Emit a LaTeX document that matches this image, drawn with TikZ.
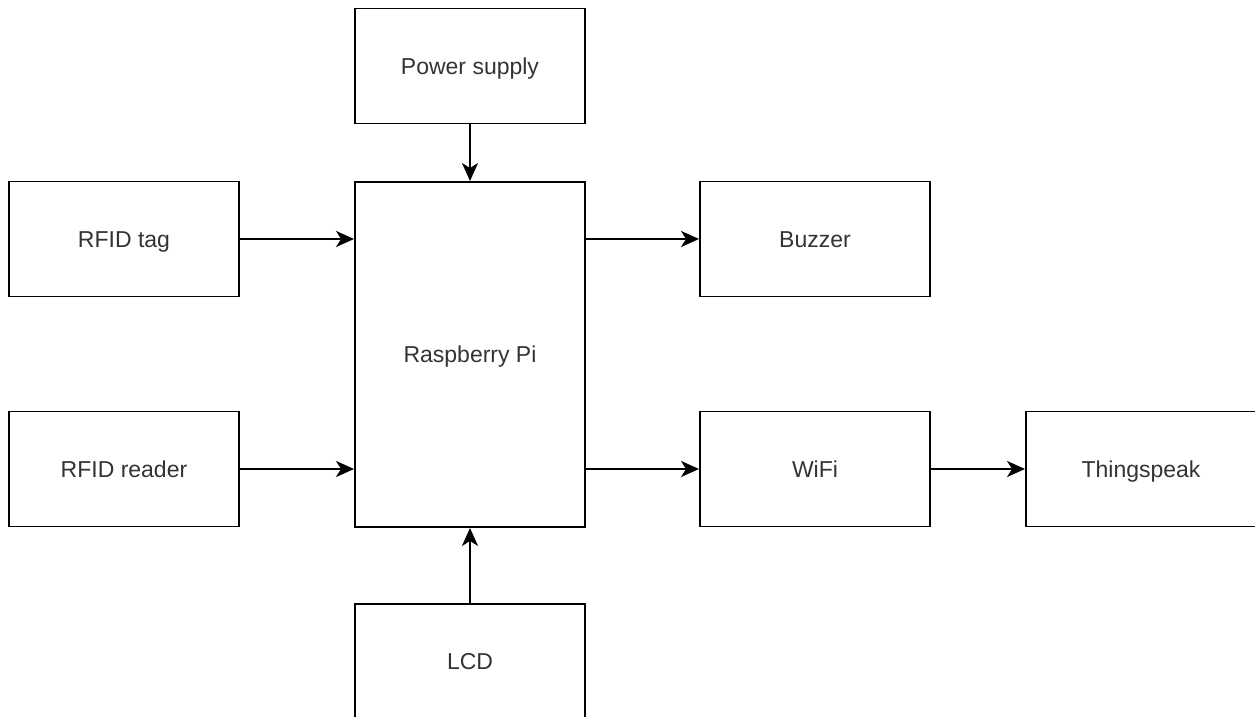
\documentclass[tikz,border=0pt]{standalone}
\usepackage{fontspec}
\setmainfont{Liberation Sans}
\usepackage{tikz}
\usetikzlibrary{positioning, arrows.meta, calc}

\tikzset{
    block/.style={draw, line width=1.9pt, minimum width=230pt, minimum height=115pt,
        inner sep=0pt, text height=16.5pt, text depth=0pt, text=black!80,
        font=\fontsize{23}{27}\selectfont},
    link/.style={-{Stealth[length=18pt, width=16pt, inset=5pt]}, line width=1.9pt}
}

\begin{document}
\begin{tikzpicture}[x=1pt, y=1pt]
    \useasboundingbox (0,0) rectangle (1255,717);

    % Blocks
    \node[block] (power) at (470,651) {Power supply};
    \node[block] (tag) at (124,478) {RFID tag};
    \node[block, minimum height=345pt] (pi) at (470,362.5) {Raspberry Pi};
    \node[block] (buzzer) at (815,478) {Buzzer};
    \node[block] (reader) at (124,248) {RFID reader};
    \node[block] (wifi) at (815,248) {WiFi};
    \node[block] (cloud) at (1141,248) {Thingspeak};
    \node[block] (lcd) at (470,55.5) {LCD};

    % Connections
    \draw[link] (power) -- (pi);
    \draw[link] (tag.east) -- (tag.east -| pi.west);
    \draw[link] (reader.east) -- (reader.east -| pi.west);
    \draw[link] (buzzer.west -| pi.east) -- (buzzer.west);
    \draw[link] (wifi.west -| pi.east) -- (wifi.west);
    \draw[link] (wifi) -- (cloud);
    \draw[link] (lcd) -- (pi);
\end{tikzpicture}
\end{document}
